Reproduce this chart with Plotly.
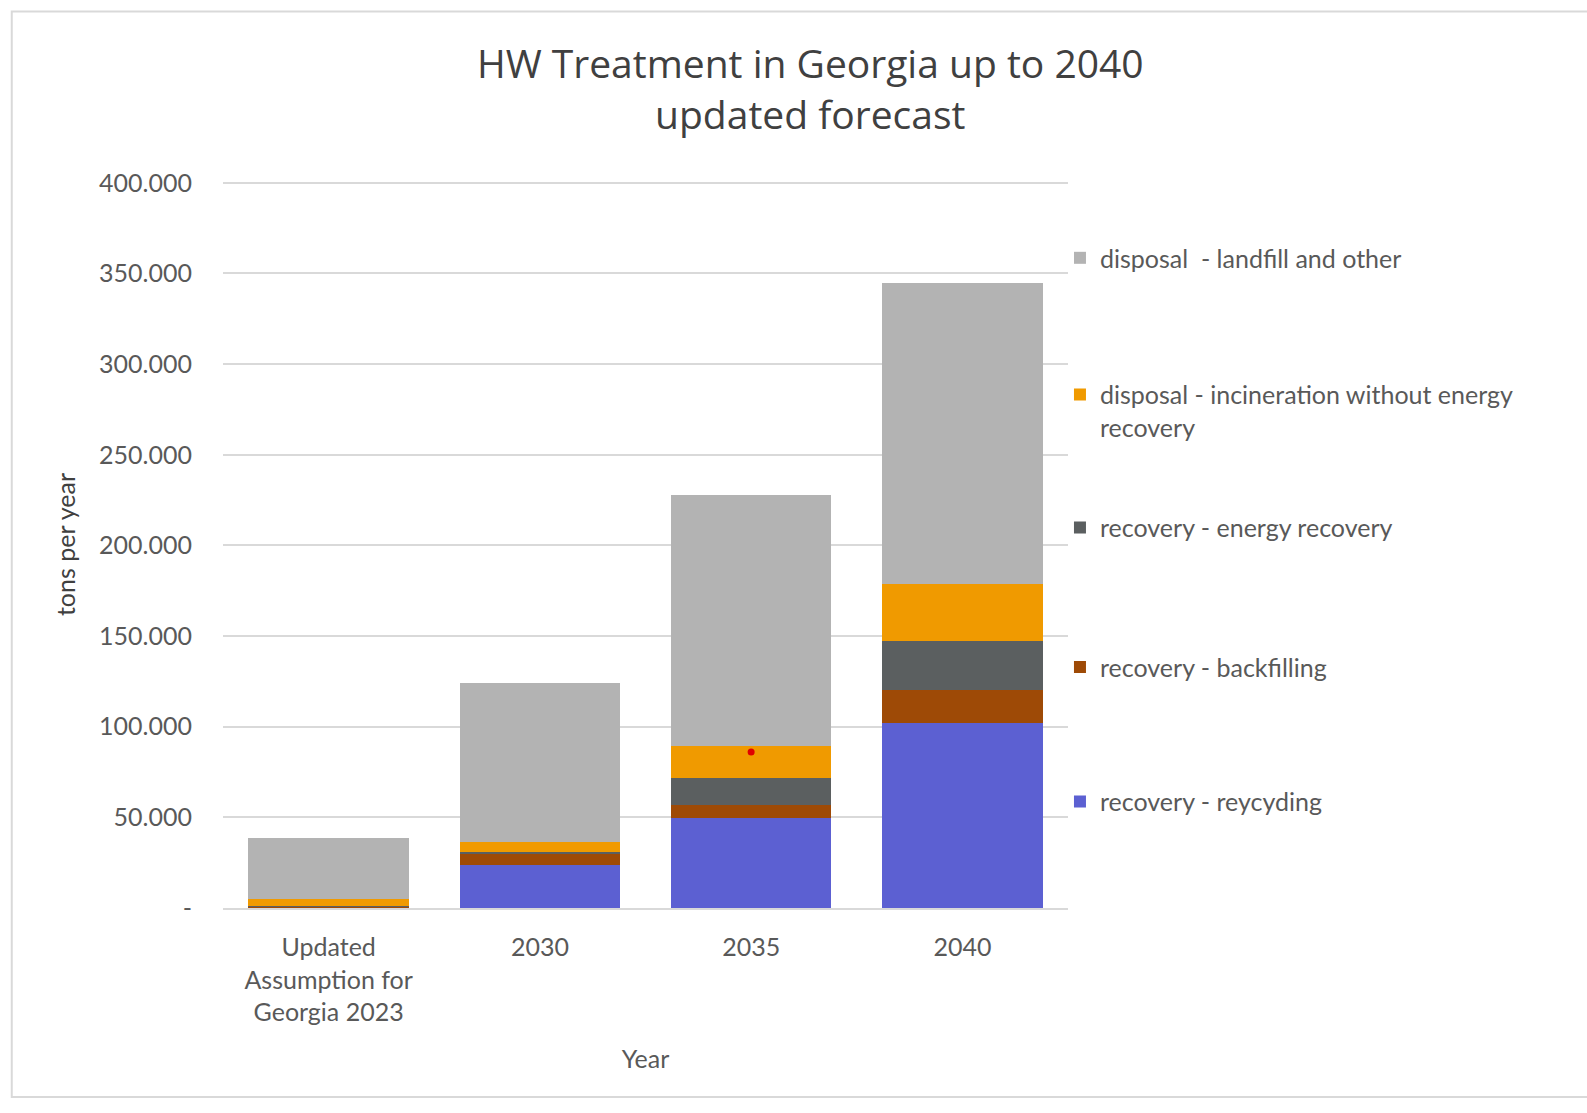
import plotly.graph_objects as go

categories = ["Updated<br>Assumption for<br>Georgia 2023", "2030", "2035", "2040"]
recycling = [500, 23700, 49500, 102300]
backfilling = [500, 6600, 7200, 17700]
energy_recovery = [300, 500, 14800, 27500]
incineration = [3500, 5500, 17600, 31300]
landfill = [33700, 88000, 138700, 166200]

y_tick_values = [0, 50000, 100000, 150000, 200000, 250000, 300000, 350000, 400000]
y_tick_labels = ["-", "50.000", "100.000", "150.000", "200.000", "250.000", "300.000", "350.000", "400.000"]

series_names = [
    "recovery - reycyding",
    "recovery - backfilling",
    "recovery - energy recovery",
    "disposal - incineration without energy<br>recovery",
    "disposal  - landfill and other",
]
series_values = [recycling, backfilling, energy_recovery, incineration, landfill]
colors = ["#5C60D2", "#9E4A06", "#5B5F60", "#F09A00", "#B3B3B3"]
legend_ids = ["legend5", "legend4", "legend3", "legend2", "legend"]
legend_y = [0.146, 0.331, 0.523, 0.684, 0.894]

fig = go.Figure()
for name, vals, col, lid in zip(series_names, series_values, colors, legend_ids):
    fig.add_trace(go.Bar(
        x=categories, y=vals, name=name, marker=dict(color=col, line=dict(width=0)),
        legend=lid,
    ))

# stray red dot visible in reference
fig.add_trace(go.Scatter(x=["2035"], y=[86000], mode="markers",
                         marker=dict(color="#E00000", size=7), showlegend=False,
                         hoverinfo="skip"))

legend_style = dict(x=0.9905, xanchor="left", yanchor="middle", valign="top",
                    font=dict(size=25, color="#595959"), itemwidth=30,
                    bgcolor="rgba(0,0,0,0)")
legends = {}
for lid, ly in zip(legend_ids, legend_y):
    legends[lid] = dict(y=ly, **legend_style)

fig.update_layout(
    barmode="stack",
    bargap=0.24,
    width=1587, height=1113,
    margin=dict(l=223, r=519, t=181, b=205),
    paper_bgcolor="white", plot_bgcolor="white",
    font=dict(family="Lato, Open Sans, sans-serif", color="#595959"),
    title=dict(text="HW Treatment in Georgia up to 2040<br>updated forecast",
               x=0.695, xref="paper", xanchor="center", y=0.93, yanchor="top",
               font=dict(size=39, color="#404040", family="Open Sans, sans-serif")),
    xaxis=dict(title=dict(text="Year", font=dict(size=25, color="#595959"), standoff=25),
               tickfont=dict(size=25, color="#595959"), showgrid=False,
               showline=True, linecolor="#D9D9D9", linewidth=2, ticks="",
               ticklabelstandoff=16),
    yaxis=dict(title=dict(text="tons per year", font=dict(size=25, color="#404040"), standoff=16),
               range=[0, 401000], tickmode="array", tickvals=y_tick_values, ticktext=y_tick_labels,
               tickfont=dict(size=25, color="#595959"),
               showgrid=True, gridcolor="#D9D9D9", gridwidth=2, zeroline=False,
               ticks="", ticklabelstandoff=30),
    shapes=[dict(type="rect", xref="paper", yref="paper",
                 x0=-0.25, x1=1.77, y0=-0.26, y1=1.233,
                 line=dict(color="#D9D9D9", width=2))],
    **legends,
)

fig.write_html("out.html")
